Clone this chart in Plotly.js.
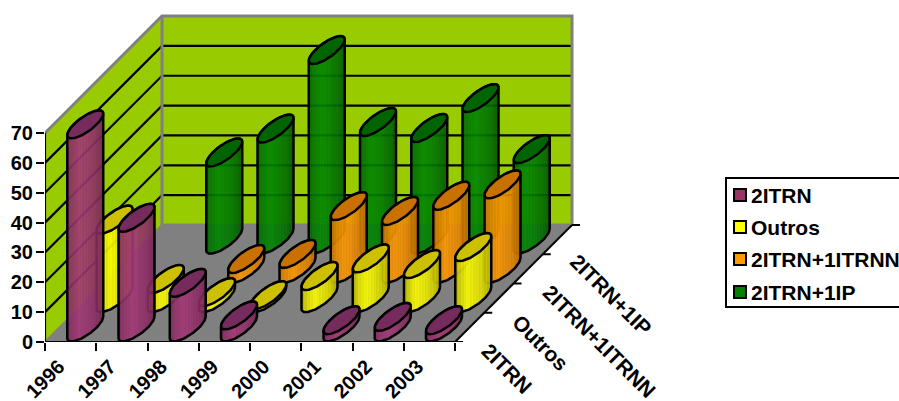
<!DOCTYPE html>
<html>
<head>
<meta charset="utf-8">
<script src="https://cdn.plot.ly/plotly-3.0.1.min.js"></script>
<style>html,body{margin:0;padding:0;background:#fff;overflow:hidden}</style>
</head>
<body>
<div id="chart" style="width:899px;height:401px"></div>
<script>
// Category and series labels
const years = ['1996','1997','1998','1999','2000','2001','2002','2003'];
const seriesNames = ['2ITRN','Outros','2ITRN+1ITRNN','2ITRN+1IP'];

// Values per series, one per year (null = nothing drawn)
const itrn2   = [68, 36.7, 14.9, 4.0, null, 2.4, 3.5, 2.4];
const outros  = [26.3, 6.4, 2.0, 1.0, 7.4, 13.3, 11.4, 17.1];
const itrnnn  = [null, null, 3.3, 5.0, 21, 19.4, 24.5, 28.3];
const itrnip  = [null, 29.2, 37.2, 63.5, 39.4, 37.4, 47.4, 30.3];
const seriesValues = [itrn2, outros, itrnnn, itrnip];
const valueTicks = [0,10,20,30,40,50,60,70];
const yearEdges = [0,1,2,3,4,5,6,7,8];

// Body shading (edge, highlight, shade) and cap colour of each series, as r,g,b
const bodyShade = [
  [[115,40,86],[165,56,120],[108,34,78]],
  [[170,165,0],[255,255,0],[165,160,0]],
  [[190,108,0],[255,153,0],[180,100,0]],
  [[0,96,0],[0,136,0],[0,76,0]]
];
const capColors = ['#752c5c','#ccc000','#c87000','#006400'];
const legendFill = ['#993366','#ffff00','#ff9900','#008000'];
const BODY_ALPHA = 0.91;

// Banded horizontal colour scale: fine vertical stripes over a soft highlight
function bandedScale(shade) {
  const BANDS = 26, scale = [];
  for (let i = 0; i < BANDS; i++) {
    const t = i / (BANDS - 1);
    const w = t < 0.35 ? t / 0.35 : 1 - (t - 0.35) / 0.65;
    const end = t < 0.35 ? shade[0] : shade[2];
    const flick = i % 2 ? 0.96 : 1;
    const c = shade[1].map((h, k) => Math.round((end[k] + (h - end[k]) * Math.pow(w, 0.5)) * flick));
    const col = `rgba(${c[0]},${c[1]},${c[2]},${BODY_ALPHA})`;
    scale.push([i / BANDS, col], [(i + 1) / BANDS, col]);
  }
  return scale;
}

// Oblique projection: year slot, series depth and value go to axis coordinates
const PX_X = 51.25, PX_Y = 2.985, DEPTH_PX = 29.25;
const px = (c, d) => c + d * DEPTH_PX / PX_X;
const py = (d, v) => v + d * DEPTH_PX / PX_Y;

const traces = [];
const base = {type:'scatter', mode:'lines', cliponaxis:false, hoverinfo:'skip', showlegend:false};
const poly = (pts, fill, line, width) => traces.push(Object.assign({}, base, {
  x: pts.map(p => px(p[0], p[1])), y: pts.map(p => py(p[1], p[2])),
  fill: fill ? 'toself' : 'none', fillcolor: fill || undefined,
  line: line ? {color: line, width: width || 2} : {width: 0}
}));

// Walls and floor
poly([[0,0,0],[0,4,0],[0,4,70],[0,0,70],[0,0,0]], '#99cc00');
poly([[0,4,0],[8,4,0],[8,4,70],[0,4,70],[0,4,0]], '#99cc00');
poly([[0,0,0],[8,0,0],[8,4,0],[0,4,0],[0,0,0]], '#808080');

// Grid lines across both walls
valueTicks.slice(1,7).forEach(v => poly([[0,0,v],[0,4,v],[8,4,v]], null, '#000', 2.2));

// Grey wall edges
poly([[0,0,70],[0,4,70],[8,4,70],[8,4,0]], null, '#808080', 3);
poly([[0,4,70],[0,4,0],[8,4,0]], null, '#808080', 3);
poly([[0,0,0],[0,4,0]], null, '#808080', 2);

// One slanted cylinder: silhouette with gradient, then the darker cap
const HALF_W = 18 / PX_X, HALF_H = 14 / PX_Y, PHASE = 40 * Math.PI / 180;
function ring(cx, vy, t) {
  return [cx + HALF_W * Math.cos(t), vy + HALF_H * Math.cos(t - PHASE)];
}
function cylinder(cat, s, v) {
  const cx = px(cat + 0.5, s + 0.5), floorY = py(s + 0.5, 0), top = py(s + 0.5, v);
  const xs = [], ys = [];
  const N = 48;
  // front of the base runs from the rightmost point through the lowest to the leftmost
  for (let i = 0; i <= N; i++) { const p = ring(cx, floorY, -Math.PI * i / N); xs.push(p[0]); ys.push(p[1]); }
  // back of the top ring closes the silhouette
  for (let i = 0; i <= N; i++) { const p = ring(cx, top, Math.PI - Math.PI * i / N); xs.push(p[0]); ys.push(p[1]); }
  xs.push(xs[0]); ys.push(ys[0]);
  traces.push(Object.assign({}, base, {
    x: xs, y: ys, fill:'toself',
    fillgradient:{type:'horizontal', colorscale:bandedScale(bodyShade[s])},
    line:{color:'#000', width:2.5}
  }));
  const cxs = [], cys = [];
  for (let i = 0; i <= 2 * N; i++) { const p = ring(cx, top, Math.PI * i / N); cxs.push(p[0]); cys.push(p[1]); }
  traces.push(Object.assign({}, base, {
    x: cxs, y: cys, fill:'toself', fillcolor: capColors[s], line:{color:'#000', width:2.5}
  }));
}
for (let s = 3; s >= 0; s--) {
  seriesValues[s].forEach((v, c) => { if (v !== null) cylinder(c, s, v); });
}

// Axis lines; the year line sits on the overlaid axis that carries the year labels
poly([[0,0,0],[0,0,70]], null, '#000', 2.2);
traces.push(Object.assign({}, base, {xaxis:'x2', x:[0,8], y:[0,0], line:{color:'#000', width:2.2}}));
poly([[8,0,0],[8,4,0]], null, '#000', 2);

// Depth axis ticks
[0,1,2,3,4].forEach(d => traces.push(Object.assign({}, base, {
  x:[px(8,d), px(8,d) + 8/PX_X], y:[py(d,0), py(d,0)], line:{color:'#000', width:2}
})));

const labelFont = {family:'Liberation Sans', size:21, color:'#000', weight:700};
const tickFont = {family:'Liberation Sans', size:20, color:'#000', weight:700};

// Depth axis labels, rotated along the floor edge
const depthShift = [[52,-26],[56,-30],[86,-58],[68,-40]];
const annotations = seriesNames.map((name, d) => ({
  x: px(8,d), y: py(d,0), xref:'x', yref:'y', text: name, showarrow:false, textangle:45,
  xanchor:'center', yanchor:'middle', xshift: depthShift[d][0], yshift: depthShift[d][1],
  font: labelFont
}));

// Key on the right, placed in plot coordinates
const keyX = (726 - 45) / PX_X, keyYs = [195, 227, 259, 292].map(p => (342 - p) / PX_Y);
const shapes = [{
  type:'rect', xref:'x', yref:'y', x0:keyX, x1:(905-45)/PX_X, y0:(342-178)/PX_Y, y1:(342-307)/PX_Y,
  line:{color:'#000', width:2}, fillcolor:'#fff', layer:'below'
}];
traces.push(Object.assign({}, base, {
  mode:'markers',
  x: keyYs.map(() => (740 - 45) / PX_X), y: keyYs,
  marker:{symbol:'square', size:12, color:legendFill, line:{color:'#000', width:2}}
}));
seriesNames.forEach((name, i) => annotations.push({
  x:(752 - 45) / PX_X, y:keyYs[i], xref:'x', yref:'y', text:name, showarrow:false,
  xanchor:'left', yanchor:'middle', align:'left', xshift:-3,
  font: labelFont
}));

const xRange = [0,(899-45)/PX_X];
const layout = {
  width:899, height:401, showlegend:false,
  margin:{l:45, r:0, t:0, b:59, pad:0},
  paper_bgcolor:'#fff', plot_bgcolor:'rgba(0,0,0,0)',
  xaxis:{
    range:xRange, showgrid:false, zeroline:false, showline:false,
    tickmode:'array', tickvals:yearEdges, ticks:'outside', ticklen:8, tickwidth:2, tickcolor:'#000',
    showticklabels:false
  },
  xaxis2:{
    overlaying:'x', anchor:'y', side:'bottom',
    range:xRange, showgrid:false, zeroline:false, showline:false,
    tickmode:'array', tickvals:years.map((_, i) => i + 0.27), ticktext:years,
    tickangle:-45, ticks:'', tickfont:tickFont, ticklabelstandoff:8
  },
  yaxis:{
    range:[0,342/PX_Y], showgrid:false, zeroline:false, showline:false,
    tickmode:'array', tickvals:valueTicks, ticks:'outside', ticklen:8, tickwidth:2, tickcolor:'#000',
    tickfont:tickFont, ticklabelstandoff:-1
  },
  shapes, annotations
};
Plotly.newPlot('chart', traces, layout, {displayModeBar:false, staticPlot:true});
</script>
</body>
</html>
